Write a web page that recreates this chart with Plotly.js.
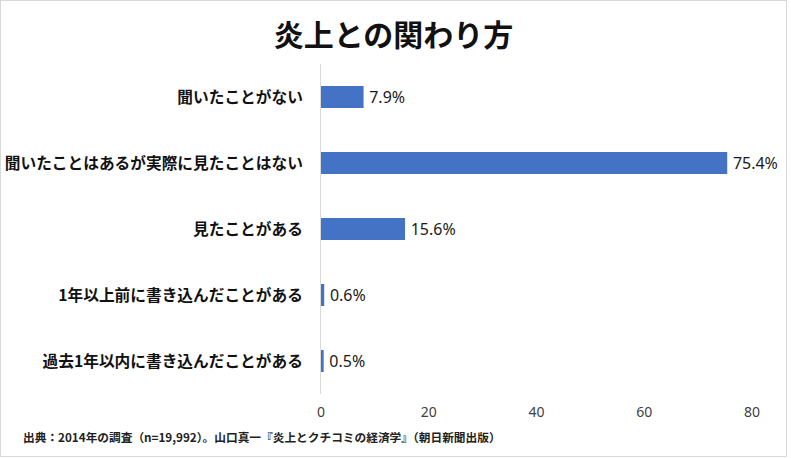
<!DOCTYPE html>
<html>
<head>
<meta charset="utf-8">
<script src="https://cdn.plot.ly/plotly-3.0.1.min.js"></script>
<style>
  html, body { margin: 0; padding: 0; background: #fff; }
  #frame { width: 787px; height: 457px; border: 1px solid #d9d9d9; box-sizing: border-box; overflow: hidden; }
  #plot { width: 785px; height: 455px; }
</style>
</head>
<body>
<div id="frame"><div id="plot"></div></div>
<script>
const JP_FONT = '"Noto Sans CJK JP", "Noto Sans", sans-serif';
const NUM_FONT = '"Noto Sans", "Open Sans", sans-serif';

// categories, top to bottom as in the chart
const CATEGORIES = [
  '聞いたことがない',
  '聞いたことはあるが実際に見たことはない',
  '見たことがある',
  '1年以上前に書き込んだことがある',
  '過去1年以内に書き込んだことがある'
];
const PERCENTS = [7.9, 75.4, 15.6, 0.6, 0.5];
const X_TICKS = [0, 20, 40, 60, 80];

const TITLE = '炎上との関わり方';
const SOURCE_NOTE = '出典：2014年の調査（n=19,992）。山口真一『炎上とクチコミの経済学』（朝日新聞出版）';

function makePlot() {
  let trace = {
    type: 'bar',
    orientation: 'h',
    y: CATEGORIES,
    x: PERCENTS,
    marker: {color: '#4472c4'},
    // thin space keeps the label a little off the bar end
    text: PERCENTS.map(v => '\u2009' + v.toFixed(1) + '%'),
    textposition: 'outside',
    cliponaxis: false,
    textfont: {family: NUM_FONT, size: 16, color: '#1a1a1a'},
    hoverinfo: 'none'
  };

  let layout = {
    width: 785,
    height: 455,
    margin: {l: 320, r: 34, t: 63, b: 62},
    paper_bgcolor: '#ffffff',
    plot_bgcolor: '#ffffff',
    showlegend: false,
    bargap: 0.667,
    title: {
      text: TITLE,
      font: {family: JP_FONT, size: 30, color: '#111111', weight: 'bold'},
      x: 0.5, xanchor: 'center',
      y: 0.925, yanchor: 'middle'
    },
    xaxis: {
      range: [0, 80],
      tickvals: X_TICKS,
      ticktext: X_TICKS.map(String),
      showgrid: false,
      zeroline: false,
      showline: false,
      ticks: '',
      ticklabelstandoff: 8,
      tickfont: {family: NUM_FONT, size: 14, color: '#404040'},
      fixedrange: true
    },
    yaxis: {
      autorange: 'reversed',
      showgrid: false,
      zeroline: false,
      showline: true,
      linecolor: '#d9d9d9',
      linewidth: 1,
      ticks: '',
      ticklabelstandoff: 14,
      tickfont: {family: JP_FONT, size: 15.7, color: '#111111', weight: 'bold'},
      fixedrange: true
    },
    annotations: [{
      text: SOURCE_NOTE,
      xref: 'paper', yref: 'paper',
      x: -300 / 431, y: -42 / 330,
      xanchor: 'left', yanchor: 'middle',
      showarrow: false,
      font: {family: JP_FONT, size: 11.7, color: '#222222', weight: 'bold'}
    }]
  };

  Plotly.newPlot(document.getElementById('plot'), [trace], layout, {displayModeBar: false, staticPlot: true});
}

makePlot();
</script>
</body>
</html>
